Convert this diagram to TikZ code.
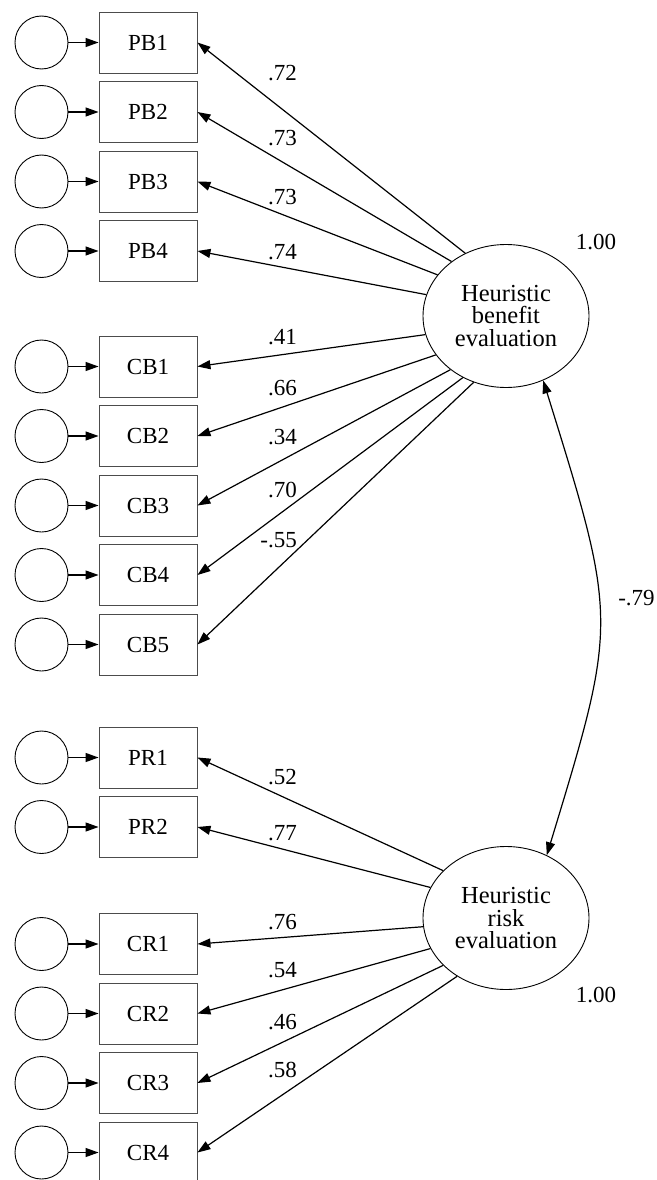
\documentclass[tikz,border=0pt]{standalone}
\usepackage{fontspec}
\setmainfont{Liberation Serif}
\usetikzlibrary{arrows.meta,shapes.geometric}
\begin{document}
\begin{tikzpicture}[x=1pt,y=-1pt,
  font=\fontsize{23}{22.5}\selectfont,
  obs/.style={draw=black!70, line width=0.9pt, minimum width=98pt, minimum height=61pt, inner sep=0pt},
  err/.style={circle, draw, line width=0.9pt, minimum size=53pt, inner sep=0pt},
  lat/.style={ellipse, draw, line width=0.9pt, minimum width=166pt, minimum height=143pt, inner sep=0pt, align=center,
    font=\fontsize{24.5}{22.5}\selectfont},
  load/.style={line width=1.2pt, -{Triangle[length=13pt,width=9pt]}},
  coef/.style={anchor=east, inner sep=0pt}]
\useasboundingbox (0,0) rectangle (656,1180);

% latent factors
\node[lat] (ben) at (506,316) {Heuristic\\benefit\\evaluation};
\node[lat] (risk) at (506,918) {Heuristic\\risk\\evaluation};

% indicators, their error terms and loadings
\foreach \nm/\yy/\lv/\ang/\lab/\ly in {
  PB1/42.5/ben/123.5/.72/73.3,
  PB2/112/ben/135.5/.73/138.3,
  PB3/181.5/ben/149.6/.73/196.7,
  PB4/251/ben/165/.74/251.7,
  CB1/366.5/ben/193/.41/336.7,
  CB2/436/ben/209.6/.66/388.3,
  CB3/505.5/ben/224/.34/436.7,
  CB4/575/ben/235.3/.70/490,
  CB5/644.5/ben/244.5/-.55/540,
  PR1/757.5/risk/143/.52/776.7,
  PR2/827/risk/158/.77/833.3,
  CR1/944/risk/186/.76/921.7,
  CR2/1013.5/risk/202/.54/970,
  CR3/1083/risk/217/.46/1021.7,
  CR4/1152.5/risk/230.3/.58/1070}{
  \node[obs] (\nm) at (148,\yy) {\nm};
  \node[err] (e\nm) at (41.5,\yy) {};
  \draw[load] (e\nm) -- (\nm);
  \draw[load] (\lv.\ang) -- (\nm.east);
  \node[coef] (c\nm) at (297,\ly) {\lab};
}

% variances and factor correlation
\node (vben) at (596,242) {1.00};
\node (vrisk) at (596,995) {1.00};
\draw[line width=1.2pt, {Triangle[length=13pt,width=9pt]}-{Triangle[length=13pt,width=9pt]}]
  (ben.300) .. controls (618,621) .. (risk.57.6);
\node (corr) at (636.5,598) {-.79};
\end{tikzpicture}
\end{document}
